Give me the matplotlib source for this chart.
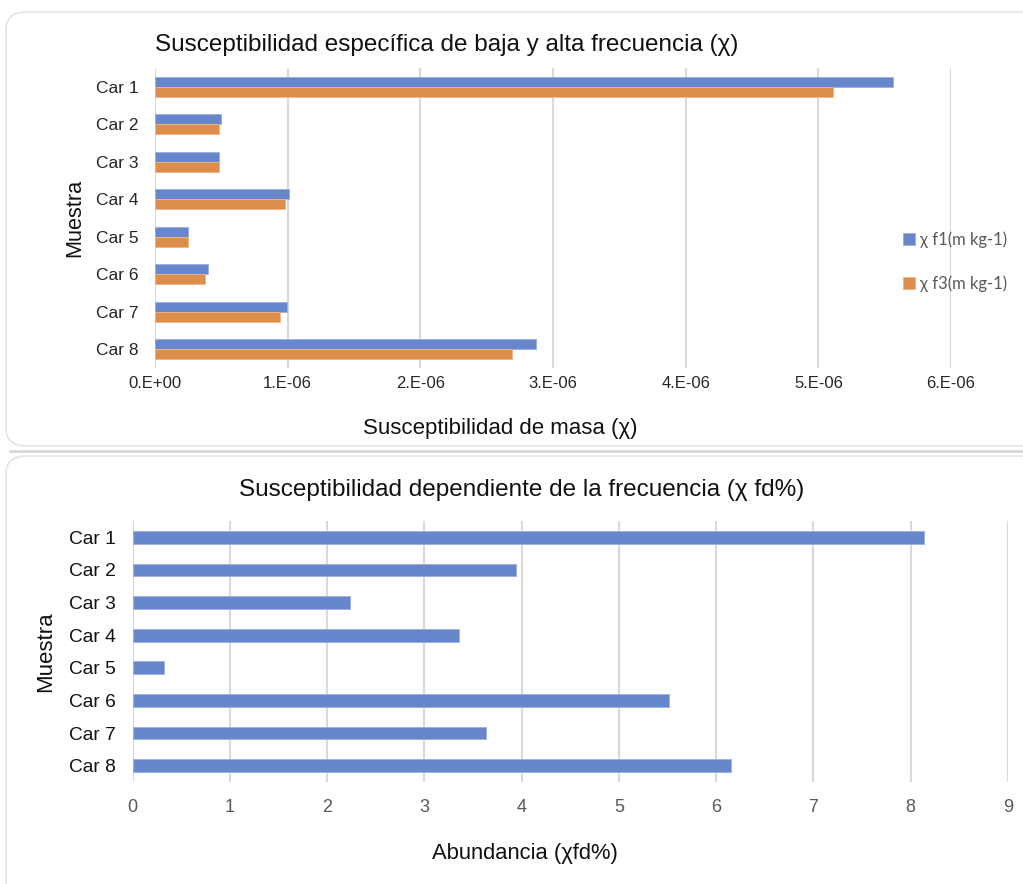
import numpy as np
import matplotlib
matplotlib.use('Agg')
import matplotlib.pyplot as plt
from matplotlib.patches import FancyBboxPatch

# sample names and measured values
muestras = ['Car 1', 'Car 2', 'Car 3', 'Car 4', 'Car 5', 'Car 6', 'Car 7', 'Car 8']
chi_f1 = [5.56e-6, 0.50e-6, 0.48e-6, 1.01e-6, 0.25e-6, 0.40e-6, 0.995e-6, 2.87e-6]
chi_f3 = [5.11e-6, 0.48e-6, 0.48e-6, 0.98e-6, 0.25e-6, 0.38e-6, 0.945e-6, 2.69e-6]
chi_fd = [8.14, 3.94, 2.24, 3.36, 0.32, 5.51, 3.63, 6.15]
ticks_top = ['0.E+00', '1.E-06', '2.E-06', '3.E-06', '4.E-06', '5.E-06', '6.E-06']

W, H = 1023, 884
BLUE = '#6687cc'
ORANGE = '#dd8e4b'
GRID = '#d9d9d9'

plt.rcParams['font.family'] = ['Liberation Sans', 'DejaVu Sans']


def box(l, t, r, b):
    # pixel box -> figure axes rect
    return [l / W, 1 - b / H, (r - l) / W, (b - t) / H]


def fy(y):
    return 1 - y / H


fig = plt.figure(figsize=(W / 100, H / 100), dpi=100)

# card backgrounds
for top, bot in [(12, 446), (456, 900)]:
    card = FancyBboxPatch((6 / W, 1 - bot / H), 1.1, (bot - top) / H,
                          boxstyle='round,pad=0,rounding_size=0.02',
                          transform=fig.transFigure, facecolor='white',
                          edgecolor='#e4e4e4', lw=1.2, zorder=-2)
    fig.patches.append(card)
fig.add_artist(plt.Line2D([10 / W, 1], [fy(451), fy(451)], color='#d6d6d6', lw=2,
                          transform=fig.transFigure, zorder=-1))

pos = np.arange(len(muestras))

# --- top chart: low / high frequency susceptibility
ax1 = fig.add_axes(box(155, 68, 951, 368))
h = 0.27
ax1.barh(pos - h / 2, chi_f1, height=h, color=BLUE, edgecolor='#9ab0e0', lw=0.6,
         label='χ f1(m kg-1)', zorder=3)
ax1.barh(pos + h / 2, chi_f3, height=h, color=ORANGE, edgecolor='#f0b483', lw=0.6,
         label='χ f3(m kg-1)', zorder=3)
ax1.set_xlim(0, 6e-6)
ax1.set_ylim(7.5, -0.5)
ax1.set_xticks(np.arange(7) * 1e-6)
ax1.set_xticklabels(ticks_top, fontsize=12, color='#262626')
ax1.set_yticks(pos)
ax1.set_yticklabels(muestras, fontsize=12.5, color='#262626')
ax1.tick_params(length=0)
ax1.tick_params(axis='x', pad=6)
ax1.tick_params(axis='y', pad=12)
ax1.grid(axis='x', color=GRID, lw=1.5, zorder=0)
for s in ax1.spines.values():
    s.set_visible(False)
ax1.set_facecolor('none')

leg = ax1.legend(loc='upper left', bbox_to_anchor=(888 / W, fy(216)),
                 bbox_transform=fig.transFigure, frameon=False,
                 prop={'family': ['Lato', 'DejaVu Sans'], 'size': 12},
                 handlelength=0.7, handleheight=0.7, handletextpad=0.3,
                 labelspacing=1.65, labelcolor='#595959')

fig.text(447 / W, fy(45), 'Susceptibilidad específica de baja y alta frecuencia (χ)',
         ha='center', va='center', fontsize=17.5, color='#111111')
fig.text(500 / W, fy(428), 'Susceptibilidad de masa (χ)',
         ha='center', va='center', fontsize=16, color='#111111')
fig.text(75 / W, fy(218), 'Muestra', rotation=90,
         ha='center', va='center', fontsize=15.7, color='#111111')

# --- bottom chart: frequency dependent susceptibility
ax2 = fig.add_axes(box(132.5, 521, 1008, 782))
ax2.barh(pos, chi_fd, height=0.39, color=BLUE, edgecolor='#9ab0e0', lw=0.6, zorder=3)
ax2.set_xlim(0, 9)
ax2.set_ylim(7.5, -0.5)
ax2.set_xticks(range(10))
ax2.set_xticklabels([str(i) for i in range(10)], fontsize=13, color='#595959')
ax2.set_yticks(pos)
ax2.set_yticklabels(muestras, fontsize=13.8, color='#111111')
ax2.tick_params(length=0)
ax2.tick_params(axis='x', pad=12)
ax2.tick_params(axis='y', pad=12)
ax2.grid(axis='x', color=GRID, lw=1.5, zorder=0)
for s in ax2.spines.values():
    s.set_visible(False)
ax2.set_facecolor('none')

fig.text(522 / W, fy(490), 'Susceptibilidad dependiente de la frecuencia (χ fd%)',
         ha='center', va='center', fontsize=17.5, color='#111111')
fig.text(525 / W, fy(853), 'Abundancia (χfd%)',
         ha='center', va='center', fontsize=15.8, color='#111111')
fig.text(46 / W, fy(652), 'Muestra', rotation=90,
         ha='center', va='center', fontsize=16, color='#111111')

fig.savefig('out.png', dpi=100, facecolor='white')
